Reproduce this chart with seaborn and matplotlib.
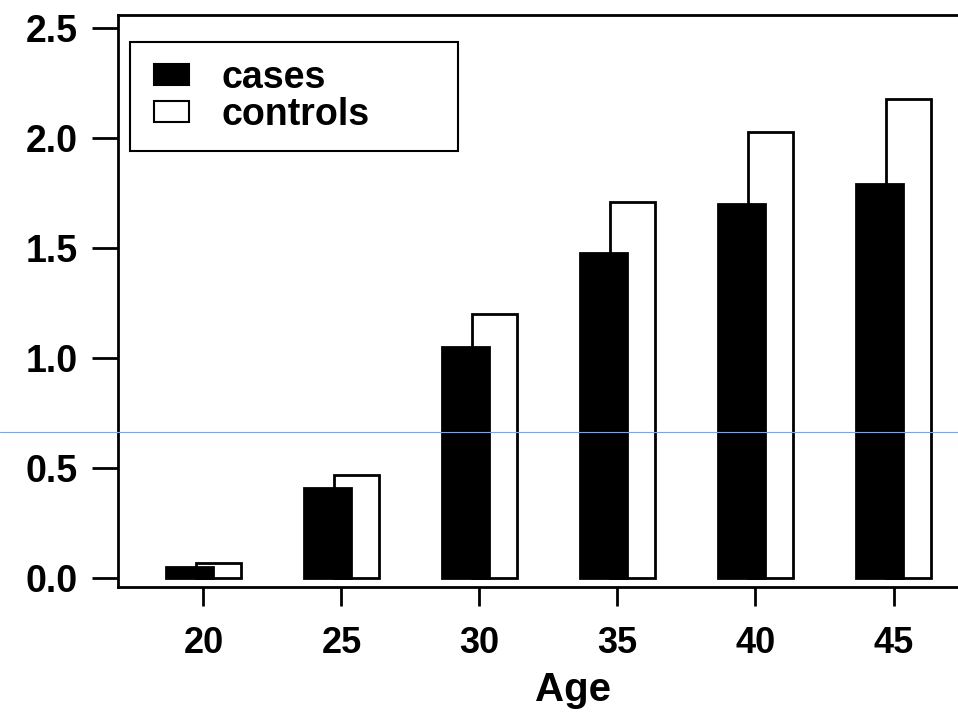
import numpy as np
import pandas as pd
import seaborn as sns
import matplotlib.pyplot as plt
from matplotlib.lines import Line2D
from matplotlib.patches import Patch
from matplotlib.legend_handler import HandlerPatch

# data
ages = [20, 25, 30, 35, 40, 45]
cases = [0.05, 0.41, 1.05, 1.48, 1.70, 1.79]
controls = [0.07, 0.47, 1.20, 1.71, 2.03, 2.18]
labels = ["cases", "controls"]

sns.set_style("white")
plt.rcParams["font.family"] = ["Liberation Sans", "DejaVu Sans"]
plt.rcParams["font.weight"] = "bold"
plt.rcParams["text.color"] = "black"
plt.rcParams["xtick.color"] = "black"
plt.rcParams["ytick.color"] = "black"

df_cases = pd.DataFrame({"Age": np.array(ages) - 0.5, "value": cases})
df_controls = pd.DataFrame({"Age": np.array(ages) + 0.55, "value": controls})

fig = plt.figure(figsize=(9.58, 7.16), dpi=100)
ax = fig.add_axes([0.123, 0.18, 0.95, 0.799])

# controls behind, cases in front
sns.barplot(data=df_controls, x="Age", y="value", native_scale=True, width=0.33,
            color="white", edgecolor="black", linewidth=2, saturation=1,
            errorbar=None, ax=ax)
sns.barplot(data=df_cases, x="Age", y="value", native_scale=True, width=0.34,
            color="black", edgecolor="black", linewidth=2, saturation=1,
            errorbar=None, ax=ax)

ax.set_xlim(16.9, 49.87)
ax.set_ylim(-0.04, 2.56)
ax.set_xticks(ages)
ax.set_xticklabels([str(a) for a in ages])
ax.set_yticks([0.0, 0.5, 1.0, 1.5, 2.0, 2.5])
ax.set_yticklabels(["0.0", "0.5", "1.0", "1.5", "2.0", "2.5"])
ax.tick_params(axis="y", left=True, direction="out", length=19, width=2, pad=10,
               labelsize=27, labelcolor="black")
ax.tick_params(axis="x", bottom=True, direction="out", length=14, width=2, pad=14,
               labelsize=26, labelcolor="black")
ax.set_xlabel("Age", fontsize=29, fontweight="bold", labelpad=7, color="black")
ax.set_ylabel("")

for s in ["left", "bottom", "top"]:
    ax.spines[s].set_color("black")
    ax.spines[s].set_linewidth(2)
ax.spines["right"].set_visible(False)

handles = [Patch(facecolor="black", edgecolor="black", linewidth=1.5),
           Patch(facecolor="white", edgecolor="black", linewidth=1.5)]
leg = ax.legend(handles, labels, loc="upper left",
                bbox_to_anchor=(0.013, 0.7605, 0.3605, 0.1925), mode="expand",
                prop={"size": 27, "weight": "bold"}, frameon=True, fancybox=False,
                framealpha=1, edgecolor="black", handlelength=1.12,
                handleheight=0.5, handletextpad=0.85, labelspacing=0.04,
                borderpad=0.47, borderaxespad=0,
                handler_map={Patch: HandlerPatch(xpad=0.19)})
leg.get_frame().set_linewidth(1.5)

# thin horizontal line across the scan
fig.add_artist(Line2D([0, 1], [0.3966, 0.3966], transform=fig.transFigure,
                      color="#7ea6d8", linewidth=0.8))

fig.savefig("out.png", dpi=100)
